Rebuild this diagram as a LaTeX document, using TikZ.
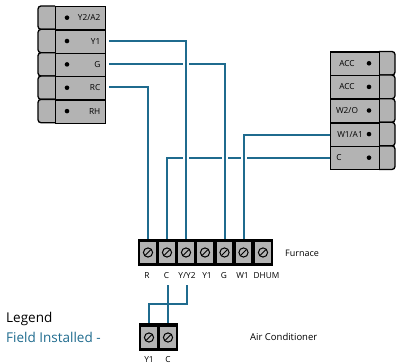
\documentclass[tikz,border=0pt]{standalone}
\usepackage{fontspec}
\setmainfont{Open Sans}
\usetikzlibrary{calc, positioning}
\definecolor{wireblue}{HTML}{1F6B8E}
\definecolor{termgrey}{HTML}{B3B3B3}
\tikzset{
  rowbox/.style={draw=black, line width=1.3pt, fill=termgrey, minimum height=23.3pt, inner sep=0pt},
  screwbox/.style={fill=termgrey, minimum width=15.5pt, minimum height=21pt, inner sep=0pt},
  wire/.style={draw=wireblue, line width=2pt},
  wirecross/.style={wire, preaction={draw=white, line width=6pt}},
  lab/.style={font=\fontsize{8.3}{9}\selectfont, inner sep=0pt},
  bigtxt/.style={font=\fontsize{9}{11}\selectfont, inner sep=0pt, anchor=west}
}
\newcommand{\screw}[1]{
  \draw[line width=1pt] (#1) circle (4.6pt);
  \draw[line width=1pt] ($(#1)+(-2.8,2.8)$)--($(#1)+(2.8,-2.8)$);
}
\begin{document}
\begin{tikzpicture}[x=1pt,y=-1pt]
\useasboundingbox (0,0) rectangle (396,363);
% left block
\foreach \name/\txt [count=\i from 0] in {a/Y2\slash A2,b/Y1,c/G,d/RC,e/RH} {
  \draw[line width=1.3pt, fill=termgrey, rounded corners=3pt] (55,6+23.35*\i)--++(-17,0)--++(0,23.35)--++(17,0);
  \node[rowbox, minimum width=50pt, anchor=north west] (l\name) at (55,6+23.35*\i) {};
  \fill (67,17.7+23.35*\i) circle (2.3pt);
  \node[lab, anchor=east] (lt\name) at (100.5,17.7+23.35*\i) {\txt};
}
\coordinate (wY) at (109,40.7);
\coordinate (wG) at (109,64);
\coordinate (wR) at (109,87);
% right block
\foreach \name/\txt/\tx [count=\i from 0] in {a/ACC/347,b/ACC/347,c/W2\slash O/347,d/W1\slash A1/350,e/C/339} {
  \draw[line width=1.3pt, fill=termgrey, rounded corners=3pt] (379,51.5+23.6*\i)--++(16,0)--++(0,23.6)--++(-16,0);
  \node[rowbox, minimum width=49pt, anchor=north west] (r\name) at (330,51.5+23.6*\i) {};
  \fill (369,63.3+23.6*\i) circle (2.3pt);
  \node[lab] (rt\name) at (\tx,63.3+23.6*\i) {\txt};
}
% furnace
\node[fill=black, minimum width=135pt, minimum height=27pt, inner sep=0pt] (furnace) at (205.5,252.5) {};
\foreach \name/\txt/\x/\tx in {R/R/148/147,C/C/167/166.5,Y/Y\slash Y2/186/187,O/Y1/205/207,G/G/224.5/224,W/W1/243.5/242.5,D/DHUM/263/266.5} {
  \node[screwbox] (f\name) at (\x,252.5) {};
  \screw{f\name}
  \node[lab, anchor=base] (ft\name) at (\tx,279) {\txt};
}
\node[bigtxt] (furn) at (285,253) {Furnace};
% wires
\draw[wire] (wR) -| (fR |- furnace.north);
\draw[wire] (re.west) -| (fC |- furnace.north);
\draw[wirecross] (wG) -| (fG |- furnace.north);
\draw[wirecross] (rd.west) -| (fW |- furnace.north);
\draw[wirecross] (wY) -| (fY |- furnace.north);
% air conditioner
\node[fill=black, minimum width=39pt, minimum height=28pt, inner sep=0pt] (ac) at (158.5,337) {};
\foreach \name/\txt/\x in {Y/Y1/149,C/C/168} {
  \node[screwbox, minimum width=16pt] (a\name) at (\x,337.5) {};
  \screw{a\name}
  \node[lab, anchor=base] (at\name) at (\x,362) {\txt};
}
\coordinate (bC) at (168,285);
\coordinate (bY) at (187,285);
\coordinate (bM) at (187,304);
\draw[wire] (bC)--(aC |- ac.north);
\draw[wire] (bY)--(bM)-|(aY |- ac.north);
\node[bigtxt, font=\fontsize{9.5}{11}\selectfont] (air) at (250,337) {Air Conditioner};
% legend
\node[anchor=west, inner sep=0pt, font=\fontsize{13.5}{15}\selectfont] (legend) at (6,319) {Legend};
\node[anchor=west, inner sep=0pt, text=wireblue, font=\fontsize{13.5}{15}\selectfont] (field) at (6,337) {Field Installed -};
\end{tikzpicture}
\end{document}
